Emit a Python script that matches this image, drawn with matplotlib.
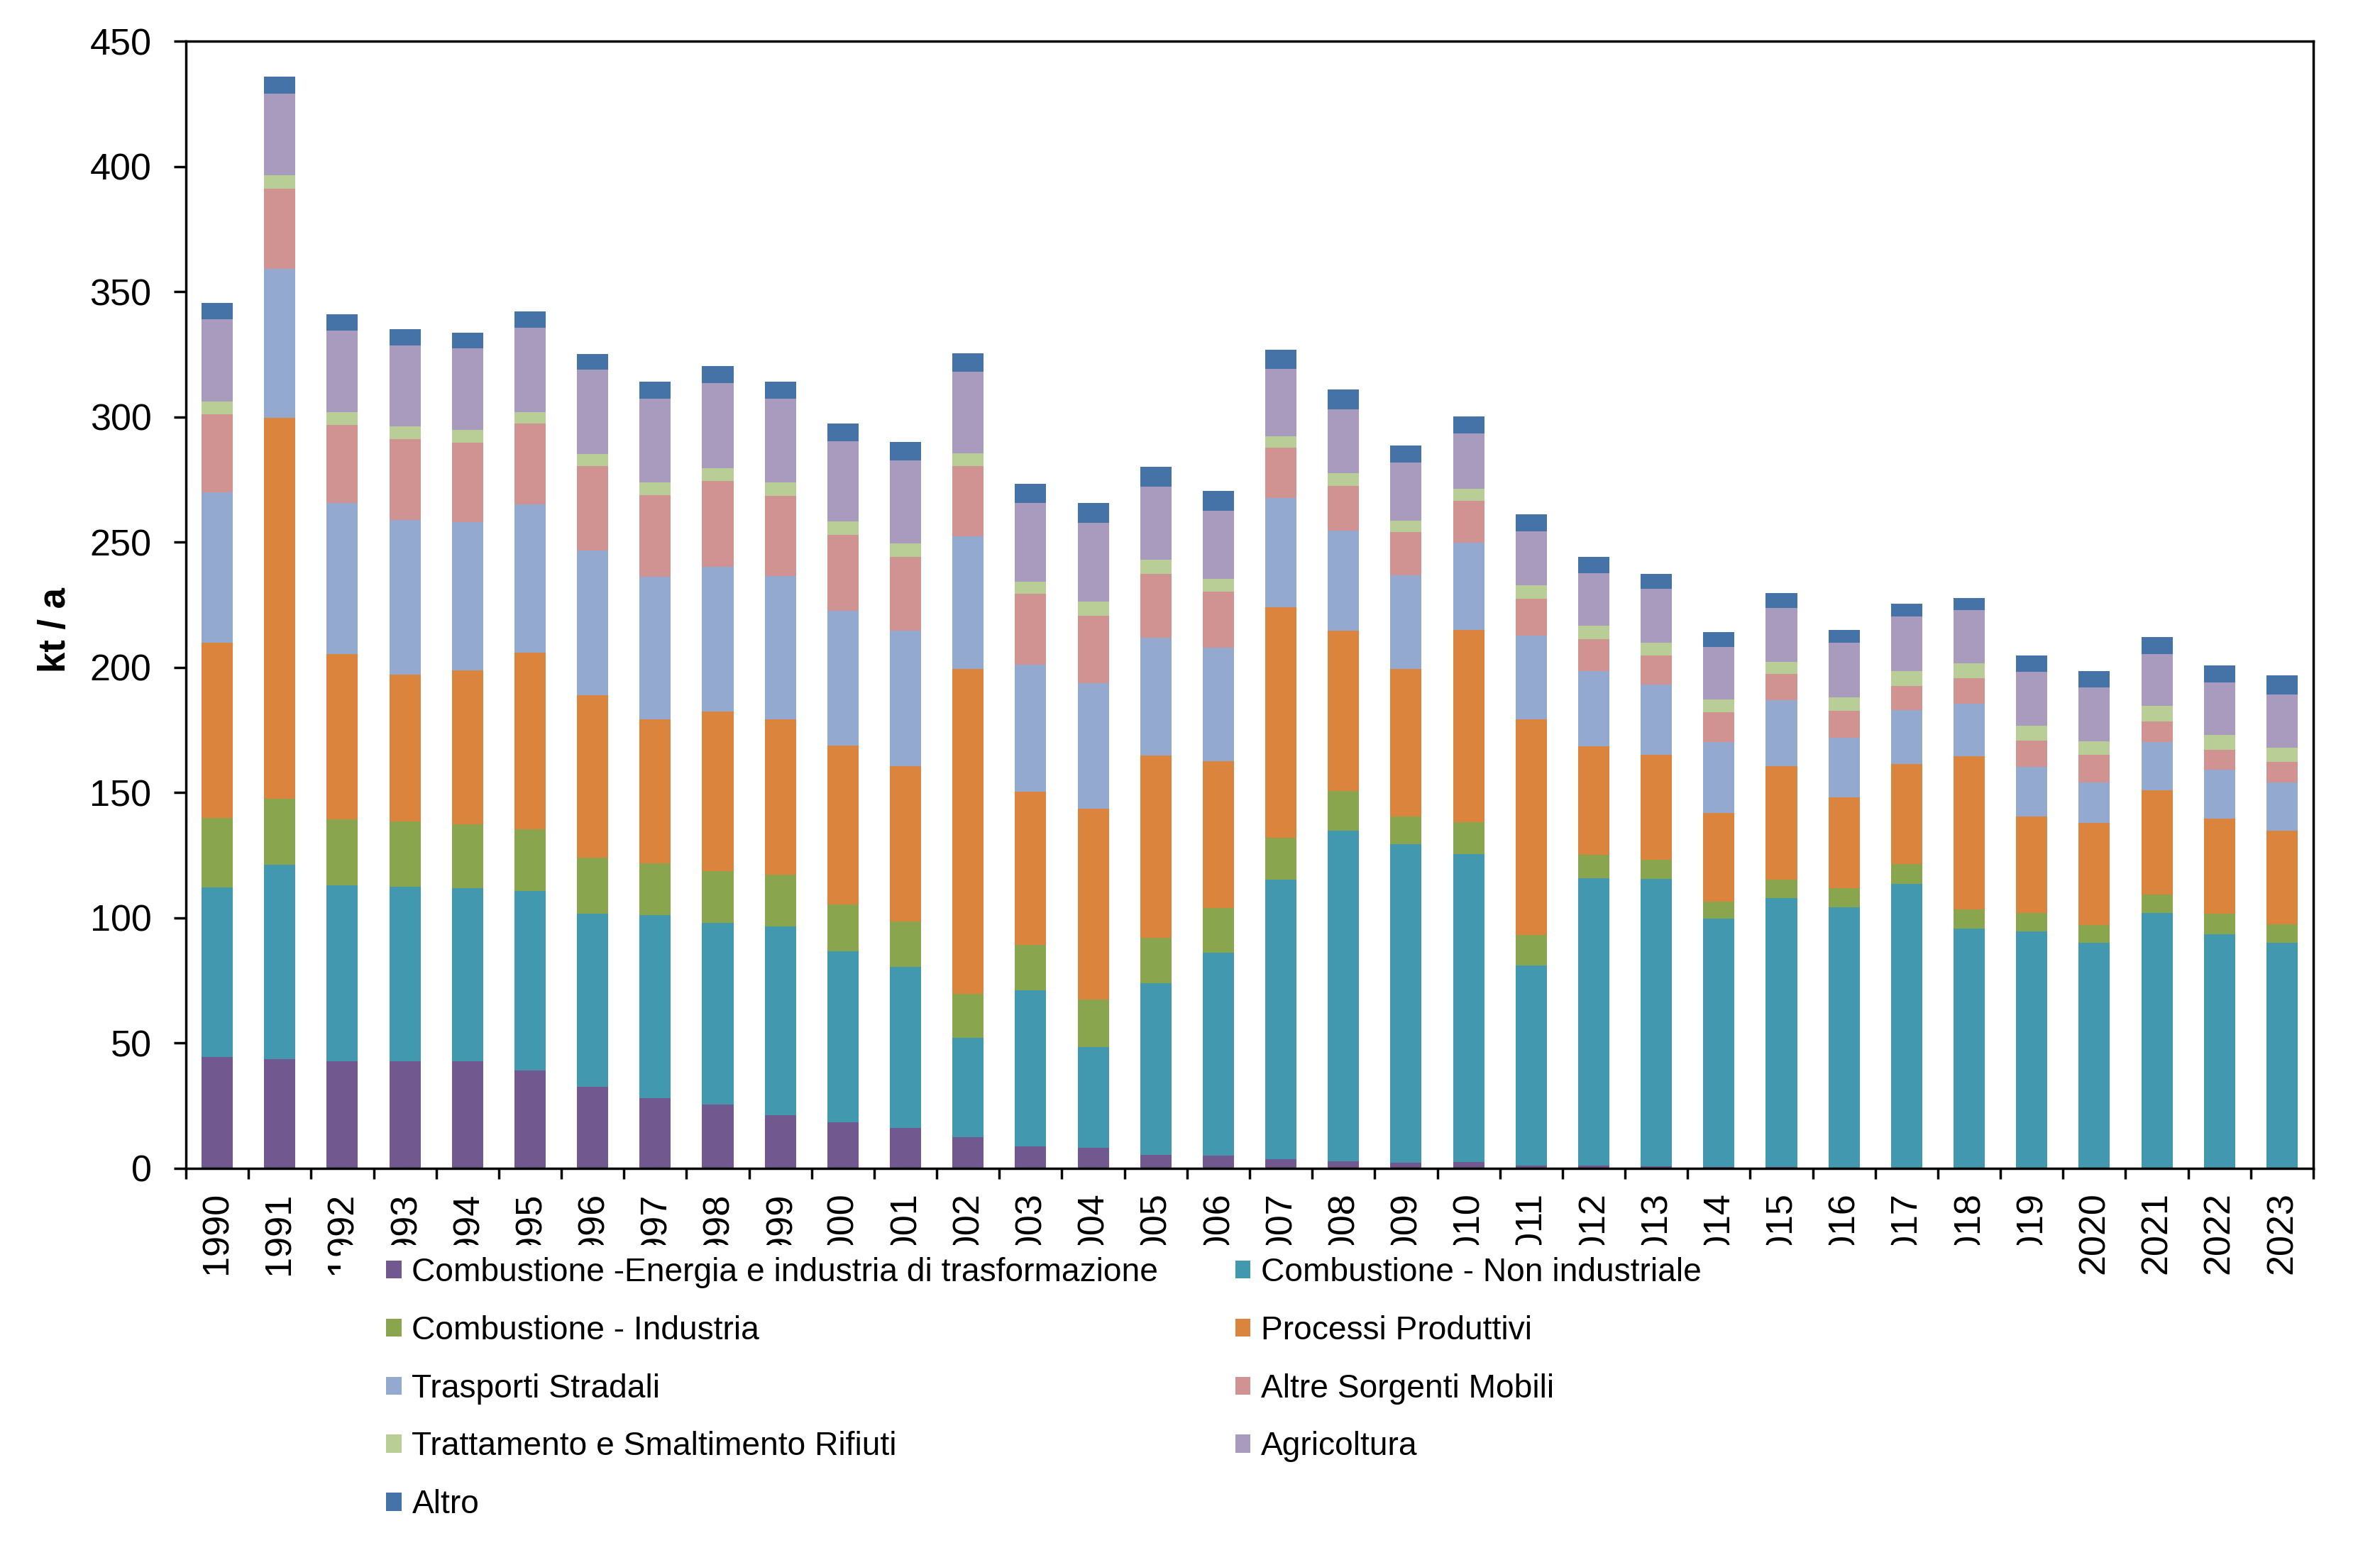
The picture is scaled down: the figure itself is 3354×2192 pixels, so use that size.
import matplotlib
matplotlib.use("Agg")
import matplotlib.pyplot as plt
import numpy as np
from matplotlib.patches import Patch, Rectangle

plt.rcParams['font.family'] = ['Liberation Sans', 'DejaVu Sans']

years = [str(y) for y in range(1990, 2024)]

series_names = [
    "Combustione -Energia e industria di trasformazione",
    "Combustione - Non industriale",
    "Combustione - Industria",
    "Processi Produttivi",
    "Trasporti Stradali",
    "Altre Sorgenti Mobili",
    "Trattamento e Smaltimento Rifiuti",
    "Agricoltura",
    "Altro",
]

energia = [44.4, 43.5, 42.9, 42.9, 42.9, 39.2, 32.6, 28.0, 25.5, 21.1,
           18.3, 16.2, 12.4, 8.7, 8.1, 5.3, 5.0, 3.7, 2.8, 2.2,
           2.5, 1.2, 1.2, 0.9, 0.6, 0.5, 0.4, 0.3, 0.3, 0.3,
           0.2, 0.2, 0.2, 0.2]
non_industriale = [67.8, 77.7, 70.2, 69.6, 69.0, 71.4, 69.0, 73.0, 72.4, 75.5,
                   68.4, 64.3, 39.8, 62.5, 40.4, 68.7, 81.1, 111.6, 132.1, 127.1,
                   123.0, 79.9, 114.7, 114.7, 99.1, 107.3, 103.7, 113.4, 95.4, 94.2,
                   89.9, 101.7, 93.3, 89.9]
industria = [27.6, 26.4, 26.1, 26.1, 25.5, 24.9, 22.4, 20.8, 20.8, 20.6,
             18.6, 18.0, 17.4, 18.0, 18.9, 18.0, 17.7, 16.8, 15.8, 11.2,
             12.8, 12.1, 9.3, 7.5, 6.9, 7.5, 7.8, 7.8, 7.8, 7.4,
             6.9, 7.5, 8.1, 7.2]
processi = [70.0, 152.0, 66.2, 58.4, 61.5, 70.5, 64.9, 57.5, 63.7, 62.1,
            63.4, 62.2, 129.9, 61.2, 76.2, 72.7, 58.7, 91.9, 64.0, 59.0,
            76.7, 86.1, 43.2, 41.9, 35.4, 45.4, 36.3, 39.8, 60.9, 38.6,
            41.0, 41.6, 37.9, 37.6]
trasporti = [60.2, 59.6, 60.3, 61.9, 59.0, 59.1, 57.8, 56.9, 57.8, 57.2,
             53.8, 54.0, 52.8, 50.7, 50.0, 47.2, 45.4, 43.6, 39.8, 37.3,
             34.8, 33.3, 30.2, 28.0, 28.3, 26.1, 23.6, 21.7, 21.1, 19.8,
             16.1, 19.3, 19.6, 19.2]
altre_mobili = [31.0, 31.8, 31.1, 32.3, 31.7, 32.3, 33.6, 32.6, 34.2, 32.0,
                30.5, 29.5, 28.0, 28.2, 27.0, 25.5, 22.4, 20.2, 18.0, 17.1,
                16.8, 14.9, 12.7, 11.8, 11.8, 10.5, 10.9, 9.7, 10.3, 10.6,
                10.9, 8.1, 8.1, 8.1]
rifiuti = [5.0, 5.5, 5.2, 4.9, 5.3, 4.6, 5.0, 5.0, 5.0, 5.3,
           5.2, 5.3, 5.3, 5.0, 5.6, 5.6, 4.9, 4.6, 5.0, 4.6,
           4.7, 5.3, 5.3, 5.0, 5.0, 5.0, 5.3, 5.9, 5.9, 5.9,
           5.6, 6.2, 5.9, 5.6]
agricoltura = [33.0, 32.6, 32.4, 32.4, 32.6, 33.6, 33.5, 33.5, 34.1, 33.5,
               32.0, 33.0, 32.3, 31.4, 31.4, 29.2, 27.4, 26.7, 25.5, 23.3,
               22.0, 21.4, 21.1, 21.7, 21.1, 21.4, 21.8, 21.7, 21.1, 21.5,
               21.4, 20.8, 20.8, 21.4]
altro = [6.5, 6.6, 6.5, 6.5, 6.2, 6.5, 6.2, 6.9, 6.9, 6.9,
         7.2, 7.4, 7.5, 7.5, 8.1, 7.8, 7.8, 7.8, 8.0, 6.9,
         6.9, 6.8, 6.5, 5.9, 5.9, 5.9, 5.2, 5.0, 5.0, 6.5,
         6.6, 6.8, 6.8, 7.5]

colors = ['#71588F', '#4198AF', '#89A54E', '#DB843D', '#93A9CF',
          '#D19392', '#B9CD96', '#A99BBD', '#4572A7']

data = [energia, non_industriale, industria, processi, trasporti,
        altre_mobili, rifiuti, agricoltura, altro]

W, H = 3355, 2192
fig = plt.figure(figsize=(W / 100, H / 100), dpi=100)
ax = fig.add_axes([262 / W, 1 - 1647 / H, (3260 - 262) / W, (1647 - 58) / H])

x = np.arange(len(years))
bottom = np.zeros(len(years))
handles = []
for name, vals, col in zip(series_names, data, colors):
    v = np.array(vals)
    ax.bar(x, v, width=0.5, bottom=bottom, color=col, linewidth=0, zorder=2)
    bottom += v
    handles.append(Patch(facecolor=col, edgecolor='none', label=name))

ax.set_xlim(-0.5, len(years) - 0.5)
ax.set_ylim(0, 450)
ax.set_yticks(np.arange(0, 451, 50))
ax.set_xticks(x)
ax.set_xticklabels(years, rotation=90)
ax.set_xticks(np.arange(-0.5, len(years), 1), minor=True)

for s in ax.spines.values():
    s.set_linewidth(2.5)
    s.set_color('black')

ax.tick_params(axis='y', which='major', direction='out', length=12, width=2.5,
               labelsize=37.5, pad=23)
ax.tick_params(axis='x', which='major', length=0, labelsize=37.5, pad=24)
ax.tick_params(axis='x', which='minor', direction='out', length=11, width=2.5)

fig.text(78 / W, 1 - 888 / H, "kt / a", rotation=90, fontsize=38,
         fontweight='bold', ha='center', va='center')

# white legend area (covers the lower part of the year labels, as in the original)
fig.add_artist(Rectangle((480 / W, 1 - 2180 / H), (2885 - 480) / W, (2180 - 1755) / H,
                         transform=fig.transFigure, facecolor='white',
                         edgecolor='none', zorder=3))

order = [0, 2, 4, 6, 8, 1, 3, 5, 7]
leg = fig.legend([handles[i] for i in order], [series_names[i] for i in order],
                 ncol=2, loc='upper left', bbox_to_anchor=(544 / W, 1 - 1772 / H),
                 fontsize=33.2, frameon=False, handlelength=0.47,
                 handleheight=0.47, handletextpad=0.32, labelspacing=0.82,
                 columnspacing=2.35, borderpad=0, borderaxespad=0)
leg.set_zorder(5)

fig.savefig("out.png", dpi=100, facecolor='white')
